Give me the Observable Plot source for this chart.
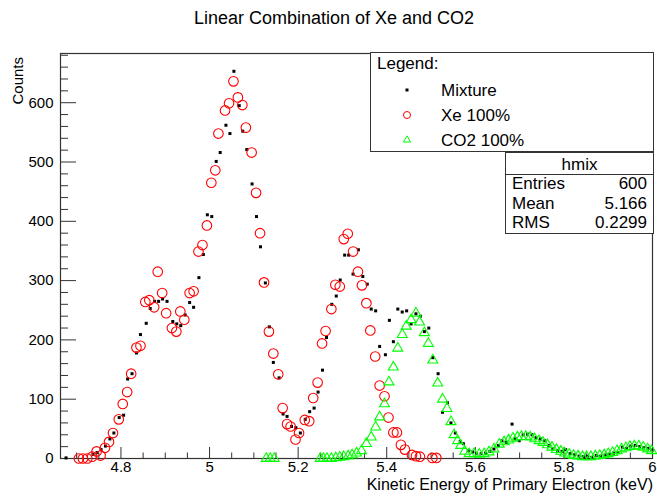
<!DOCTYPE html>
<html>
<head>
<meta charset="utf-8">
<script src="https://cdn.jsdelivr.net/npm/d3@7"></script>
<script src="https://cdn.jsdelivr.net/npm/@observablehq/plot@0.6"></script>
<style>
  html, body { margin: 0; padding: 0; background: #fff; }
  #chart { width: 657px; height: 496px; }
  svg text { font-family: "Liberation Sans", Arial, Helvetica, sans-serif; }
</style>
</head>
<body>
<div id="chart"></div>
<script>
// ---- data (x in keV, y in counts) ----
const mixture = [
  [4.676,1],[4.737,7],[4.746,10],[4.755,15],[4.765,21],[4.775,33],[4.784,43],[4.796,69],[4.806,73],[4.815,134],
  [4.825,143],[4.835,178],[4.844,209],[4.857,228],[4.866,253],[4.876,265],[4.885,265],[4.894,269],[4.904,265],[4.917,231],
  [4.926,227],[4.935,224],[4.945,242],[4.955,263],[4.964,255],[4.976,305],[4.986,344],[4.995,411],[5.005,408],[5.015,501],
  [5.024,516],[5.037,562],[5.046,548],[5.055,653],[5.067,595],[5.075,552],[5.084,521],[5.096,463],[5.106,408],[5.115,357],
  [5.126,296],[5.135,222],[5.144,162],[5.157,136],[5.166,75],[5.175,71],[5.185,54],[5.195,52],[5.205,43],[5.216,66],
  [5.226,79],[5.236,85],[5.245,112],[5.255,149],[5.264,204],[5.276,260],[5.286,274],[5.295,301],[5.305,343],[5.314,343],
  [5.324,311],[5.336,352],[5.346,307],[5.356,294],[5.365,252],[5.375,249],[5.384,189],[5.397,175],[5.406,233],[5.415,197],
  [5.425,252],[5.435,247],[5.445,249],[5.455,227],[5.466,244],[5.476,240],[5.485,214],[5.495,220],[5.504,170],[5.516,143],
  [5.526,78],[5.537,94],[5.545,60],[5.555,43],[5.566,29],[5.573,25],[5.584,13],[5.594,11],[5.603,8],[5.613,8],
  [5.623,9],[5.633,12],[5.642,16],[5.652,22],[5.660,30],[5.670,27],[5.683,58],[5.690,33],[5.699,30],[5.708,40],
  [5.718,41],[5.728,40],[5.737,35],[5.747,33],[5.757,30],[5.766,22],[5.775,16],[5.786,13],[5.796,12],[5.804,15],
  [5.814,8],[5.824,6],[5.834,4],[5.844,3],[5.853,4],[5.863,2],[5.873,5],[5.883,4],[5.893,6],[5.902,7],
  [5.912,9],[5.922,10],[5.932,19],[5.941,17],[5.951,21],[5.961,22],[5.971,20],[5.980,18],[5.990,17],[5.999,14]
];
const xenon = [
  [4.705,0],[4.714,0],[4.724,0],[4.735,3],[4.745,12],[4.754,5],[4.764,18],[4.773,28],[4.782,43],[4.795,66],
  [4.804,92],[4.814,112],[4.823,143],[4.835,187],[4.844,190],[4.855,264],[4.864,267],[4.875,255],[4.883,315],[4.893,279],
  [4.902,245],[4.915,220],[4.925,214],[4.934,248],[4.943,234],[4.955,279],[4.964,282],[4.975,349],[4.984,360],[4.994,393],
  [5.004,465],[5.013,486],[5.020,548],[5.035,587],[5.044,599],[5.054,636],[5.064,609],[5.074,596],[5.082,558],[5.095,516],
  [5.105,448],[5.114,380],[5.123,297],[5.134,214],[5.144,177],[5.155,142],[5.165,85],[5.175,58],[5.183,54],[5.194,32],
  [5.202,43],[5.215,65],[5.225,63],[5.234,102],[5.244,128],[5.254,194],[5.262,215],[5.275,252],[5.284,293],[5.294,290],
  [5.303,370],[5.312,379],[5.324,349],[5.335,315],[5.344,292],[5.354,262],[5.363,216],[5.374,172],[5.384,123],[5.395,105],
  [5.404,69],[5.415,44],[5.423,44],[5.432,23],[5.441,15],[5.457,6],[5.466,4],[5.475,3],[5.503,1],[5.512,1]
];
const co2 = [
  [5.128,0],[5.137,0],[5.146,0],[5.250,0],[5.257,0],[5.265,0],[5.275,0],[5.285,1],[5.294,2],[5.303,3],
  [5.313,4],[5.322,6],[5.332,9],[5.343,13],[5.354,25],[5.365,36],[5.375,53],[5.384,70],[5.395,92],[5.405,129],
  [5.415,154],[5.425,186],[5.435,209],[5.444,223],[5.455,234],[5.466,245],[5.474,230],[5.485,212],[5.494,194],[5.504,166],
  [5.515,127],[5.526,100],[5.536,84],[5.545,62],[5.552,40],[5.560,30],[5.567,22],[5.576,12],[5.586,8],[5.597,8],
  [5.609,7],[5.620,8],[5.631,11],[5.642,16],[5.654,24],[5.665,28],[5.675,31],[5.685,34],[5.695,36],[5.704,37],
  [5.714,37],[5.724,36],[5.734,33],[5.744,30],[5.753,27],[5.763,23],[5.773,19],[5.783,15],[5.793,12],[5.802,9],
  [5.812,7],[5.822,5],[5.832,4],[5.842,3],[5.851,3],[5.861,3],[5.871,4],[5.881,5],[5.891,6],[5.900,8],
  [5.910,10],[5.920,13],[5.930,16],[5.940,18],[5.949,20],[5.959,21],[5.969,21],[5.979,19],[5.989,16],[5.998,13]
];

// ---- axes ----
const xMajorTicks = [4.8, 5, 5.2, 5.4, 5.6, 5.8, 6];
const xMinorTicks = [4.7, 4.75, 4.85, 4.9, 4.95, 5.05, 5.1, 5.15, 5.25, 5.3, 5.35, 5.45, 5.5, 5.55, 5.65, 5.7, 5.75, 5.85, 5.9, 5.95];
const yMajorTicks = [0, 100, 200, 300, 400, 500, 600];
const yMinorTicks = [20, 40, 60, 80, 120, 140, 160, 180, 220, 240, 260, 280, 320, 340, 360, 380, 420, 440, 460, 480, 520, 540, 560, 580, 620, 640, 660, 680];

// ---- texts ----
const chartTitle = "Linear Combination of Xe and CO2";
const xTitle = "Kinetic Energy of Primary Electron (keV)";
const yTitle = "Counts";
const legendHeader = "Legend:";
const legendLabels = ["Mixture", "Xe 100%", "CO2 100%"];
const statsName = "hmix";
const statsLabels = ["Entries", "Mean", "RMS"];
const statsValues = ["600", "5.166", "0.2299"];

const W = 657, H = 496;
const mL = 60, mR = 5, mT = 53, mB = 38;
const fw = W - mL - mR, fh = H - mT - mB;
const axisColor = "#333";

const plot = Plot.plot({
  width: W,
  height: H,
  marginLeft: mL,
  marginRight: mR,
  marginTop: mT,
  marginBottom: mB,
  x: {domain: [4.6635, 6]},
  y: {domain: [0, 683]},
  style: {background: "#fff", color: "#000", fontFamily: "'Liberation Sans', Arial, Helvetica, sans-serif"},
  marks: [
    Plot.tickX(xMinorTicks, {x: d => d, insetTop: fh - 5.5, stroke: axisColor}),
    Plot.tickX(xMajorTicks, {x: d => d, insetTop: fh - 11, stroke: axisColor}),
    Plot.tickY(yMinorTicks, {y: d => d, insetRight: fw - 8, stroke: axisColor}),
    Plot.tickY(yMajorTicks, {y: d => d, insetRight: fw - 16, stroke: axisColor}),
    Plot.axisX(xMajorTicks, {tickSize: 0, tickPadding: 3, fontSize: 15, tickFormat: d => String(d), label: null}),
    Plot.axisY(yMajorTicks, {tickSize: 0, tickPadding: 7, fontSize: 15, tickFormat: d => String(d), label: null}),
    Plot.frame({stroke: axisColor, strokeWidth: 1.2}),
    Plot.dot(mixture, {x: d => d[0], y: d => d[1], symbol: "square", r: 1.7, fill: "#000", stroke: "none"}),
    Plot.dot(xenon, {x: d => d[0], y: d => d[1], symbol: "circle", r: 4.8, stroke: "#ff0000", strokeWidth: 1.1, fill: "none"}),
    Plot.dot(co2, {x: d => d[0], y: d => d[1], symbol: "triangle", r: 3.7, stroke: "#00ff00", strokeWidth: 1.1, fill: "none"})
  ]
});
document.getElementById("chart").appendChild(plot);

// ---- decorations (title, axis titles, legend, stats box) ----
const svg = d3.select(plot);
const font = "'Liberation Sans', Arial, Helvetica, sans-serif";
function txt(parent, x, y, s, size, anchor) {
  return parent.append("text").attr("x", x).attr("y", y).attr("text-anchor", anchor || "start")
    .attr("font-size", size).attr("font-family", font).attr("fill", "#000").text(s);
}

txt(svg, 334, 24, chartTitle, 18, "middle");
txt(svg, 653, 490, xTitle, 16, "end");
svg.append("text").attr("transform", `translate(23,${mT + 4}) rotate(-90)`).attr("text-anchor", "end")
  .attr("font-size", 15).attr("font-family", font).attr("fill", "#000").text(yTitle);

// legend box
const lg = svg.append("g");
lg.append("rect").attr("x", 370.5).attr("y", 52.5).attr("width", 283).attr("height", 99)
  .attr("fill", "#fff").attr("stroke", axisColor);
txt(lg, 377, 69, legendHeader, 17);
const rowY = [90, 115, 140];
legendLabels.forEach((t, i) => txt(lg, 441, rowY[i] + 6, t, 17));
lg.append("rect").attr("x", 405.5).attr("y", rowY[0] - 1.5).attr("width", 3).attr("height", 3).attr("fill", "#000");
lg.append("circle").attr("cx", 407).attr("cy", rowY[1]).attr("r", 3.5).attr("fill", "none").attr("stroke", "#ff0000");
lg.append("path").attr("d", d3.symbol(d3.symbolTriangle, 22)()).attr("transform", `translate(407,${rowY[2]})`)
  .attr("fill", "none").attr("stroke", "#00ff00");

// stats box
const sg = svg.append("g");
sg.append("rect").attr("x", 505.5).attr("y", 152.5).attr("width", 148).attr("height", 81)
  .attr("fill", "#fff").attr("stroke", axisColor);
sg.append("line").attr("x1", 505.5).attr("x2", 653.5).attr("y1", 174.5).attr("y2", 174.5).attr("stroke", axisColor);
txt(sg, 579.5, 170, statsName, 17, "middle");
const sY = [189, 209, 228];
statsLabels.forEach((t, i) => {
  txt(sg, 512, sY[i], t, 17);
  txt(sg, 647, sY[i], statsValues[i], 17, "end");
});
</script>
</body>
</html>
